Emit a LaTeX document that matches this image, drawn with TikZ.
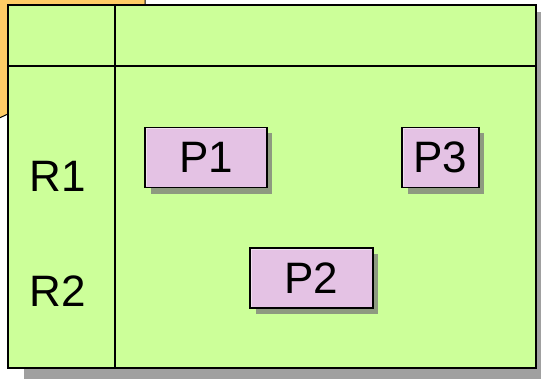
\documentclass[tikz,border=0pt]{standalone}
\usepackage{fontspec}
\setmainfont{Liberation Sans}
\definecolor{framegreen}{HTML}{CCFF99}
\definecolor{noteorange}{HTML}{FFCC66}
\definecolor{boxpink}{HTML}{E4C2E4}
\definecolor{shadowgray}{HTML}{A0A0A0}
\definecolor{boxshadow}{HTML}{8E9A80}
\tikzset{
  pbox/.style={draw=black, line width=1.5pt, fill=boxpink, minimum height=60pt, inner sep=0pt, font=\fontsize{44}{48}\selectfont},
  rlabel/.style={font=\fontsize{44}{48}\selectfont, inner sep=0pt},
}
\begin{document}
\begin{tikzpicture}[x=1pt,y=-1pt]
\useasboundingbox (0,0) rectangle (541,379);
% orange note behind
\draw[fill=noteorange, line width=1pt] (-5,-5) -- (145,-5) -- (145,10) -- (8,114) -- (-5,120) -- cycle;
% frame shadow
\fill[shadowgray] (24,12) rectangle (541,379);
% frame
\draw[fill=framegreen, line width=2pt] (8,5) rectangle (536,368);
\coordinate (vt) at (115,5);
\coordinate (vb) at (115,368);
\coordinate (hl) at (8,66);
\coordinate (hr) at (536,66);
\draw[line width=1.6pt] (vt) -- (vb);
\draw[line width=1.6pt] (hl) -- (hr);
% labels
\node[rlabel] (r1) at (58,176) {R1};
\node[rlabel] (r2) at (58,291) {R2};
% shadows of boxes
\fill[boxshadow] (151,133) rectangle (272,194);
\fill[boxshadow] (408,133) rectangle (484,194);
\fill[boxshadow] (256,254) rectangle (378,314);
% boxes
\node[pbox, minimum width=122pt] (p1) at (206,157.5) {P1};
\node[pbox, minimum width=77pt] (p3) at (440.5,157.5) {P3};
\node[pbox, minimum width=123pt] (p2) at (311.5,278) {P2};
% highlights
\draw[white, opacity=0.5, line width=1pt] ([shift={(2,-2)}]p1.south west) |- ([shift={(-2,2)}]p1.north east);
\draw[white, opacity=0.5, line width=1pt] ([shift={(2,-2)}]p3.south west) |- ([shift={(-2,2)}]p3.north east);
\draw[white, opacity=0.5, line width=1pt] ([shift={(2,-2)}]p2.south west) |- ([shift={(-2,2)}]p2.north east);
\end{tikzpicture}
\end{document}
